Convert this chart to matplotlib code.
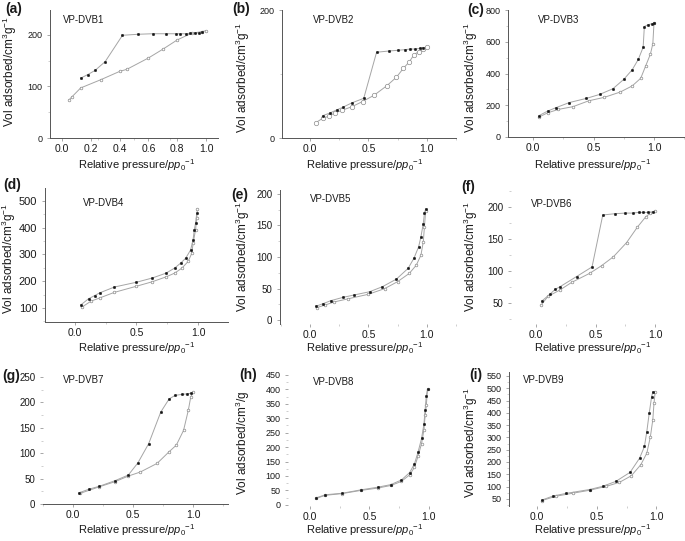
import matplotlib
matplotlib.use('Agg')
import matplotlib.pyplot as plt
from matplotlib.ticker import MultipleLocator

plt.rcParams['font.family'] = ['Liberation Sans', 'DejaVu Sans']
plt.rcParams['mathtext.fontset'] = 'custom'
plt.rcParams['mathtext.rm'] = 'Liberation Sans'
plt.rcParams['mathtext.it'] = 'Liberation Sans:italic'
plt.rcParams['text.color'] = '#1a1a1a'

# ---- data (relative pressure, volume adsorbed) ----
names = ['VP-DVB1', 'VP-DVB2', 'VP-DVB3', 'VP-DVB4', 'VP-DVB5',
         'VP-DVB6', 'VP-DVB7', 'VP-DVB8', 'VP-DVB9']
letters = ['(a)', '(b)', '(c)', '(d)', '(e)', '(f)', '(g)', '(h)', '(i)']

p_ads_a = [0.05, 0.07, 0.13, 0.27, 0.40, 0.45, 0.60, 0.70, 0.80, 0.90, 0.97, 1.00]
v_ads_a = [74, 80, 97, 113, 129, 133, 155, 172, 190, 203, 206, 208]
p_des_a = [0.13, 0.18, 0.23, 0.30, 0.42, 0.53, 0.63, 0.72, 0.79, 0.82, 0.86, 0.89, 0.92, 0.95, 0.97]
v_des_a = [116, 123, 131, 148, 199, 201, 202, 202, 202, 202, 202, 203, 203, 204, 206]

p_ads_b = [0.05, 0.11, 0.16, 0.21, 0.27, 0.36, 0.45, 0.55, 0.66, 0.74, 0.80, 0.85, 0.89, 0.93, 0.97, 1.00]
v_ads_b = [24, 31, 34, 39, 43, 49, 57, 67, 82, 95, 109, 119, 130, 135, 139, 142]
p_des_b = [0.11, 0.17, 0.23, 0.28, 0.36, 0.46, 0.57, 0.68, 0.75, 0.81, 0.86, 0.90, 0.94, 0.97]
v_des_b = [35, 39, 44, 48, 55, 62, 134, 136, 137, 138, 139, 139, 140, 141]

p_ads_c = [0.05, 0.12, 0.21, 0.33, 0.46, 0.59, 0.72, 0.82, 0.89, 0.93, 0.97, 0.99, 1.00]
v_ads_c = [126, 152, 174, 191, 228, 250, 283, 322, 370, 446, 522, 587, 720]
p_des_c = [0.05, 0.12, 0.19, 0.30, 0.44, 0.55, 0.66, 0.75, 0.82, 0.87, 0.91, 0.92, 0.95, 0.98, 1.00]
v_des_c = [135, 163, 185, 217, 243, 268, 304, 363, 424, 489, 565, 696, 707, 713, 717]

p_ads_d = [0.06, 0.13, 0.20, 0.32, 0.50, 0.63, 0.74, 0.81, 0.87, 0.92, 0.95, 0.96, 0.98, 0.99, 0.995]
v_ads_d = [104, 125, 137, 158, 181, 198, 216, 230, 249, 274, 305, 342, 392, 435, 472]
p_des_d = [0.05, 0.11, 0.16, 0.20, 0.32, 0.50, 0.63, 0.74, 0.81, 0.86, 0.90, 0.94, 0.96, 0.97, 0.98, 0.99]
v_des_d = [112, 134, 146, 156, 178, 196, 212, 230, 249, 268, 286, 317, 355, 392, 417, 454]

p_ads_e = [0.06, 0.13, 0.21, 0.33, 0.50, 0.64, 0.75, 0.85, 0.91, 0.95, 0.97, 0.98, 0.99]
v_ads_e = [20, 24, 29, 34, 41, 50, 61, 74, 87, 103, 124, 148, 172]
p_des_e = [0.05, 0.11, 0.18, 0.28, 0.38, 0.51, 0.62, 0.74, 0.84, 0.89, 0.93, 0.95, 0.97, 0.98, 0.99]
v_des_e = [22, 26, 31, 36, 40, 45, 53, 65, 82, 98, 116, 132, 153, 169, 176]

p_ads_f = [0.04, 0.10, 0.20, 0.30, 0.45, 0.55, 0.65, 0.76, 0.85, 0.92, 0.96, 1.00]
v_ads_f = [46, 60, 70, 82, 96, 108, 122, 144, 168, 184, 190, 194]
p_des_f = [0.05, 0.12, 0.16, 0.20, 0.34, 0.47, 0.56, 0.66, 0.75, 0.81, 0.86, 0.90, 0.94, 0.98]
v_des_f = [53, 64, 71, 75, 91, 106, 187, 189, 190, 190, 191, 191, 191, 192]

p_ads_g = [0.06, 0.22, 0.35, 0.46, 0.56, 0.70, 0.80, 0.86, 0.92, 0.96, 0.98, 1.00]
v_ads_g = [21, 34, 44, 55, 63, 80, 103, 116, 145, 185, 211, 220]
p_des_g = [0.05, 0.13, 0.22, 0.35, 0.46, 0.54, 0.63, 0.73, 0.80, 0.85, 0.91, 0.95, 0.98]
v_des_g = [22, 29, 35, 46, 57, 81, 119, 181, 207, 214, 216, 217, 218]

p_ads_h = [0.05, 0.13, 0.27, 0.43, 0.57, 0.68, 0.77, 0.84, 0.88, 0.91, 0.94, 0.96, 0.97, 0.98, 0.99]
v_ads_h = [22, 33, 39, 50, 58, 67, 81, 104, 130, 168, 212, 260, 310, 345, 400]
p_des_h = [0.99, 0.98, 0.97, 0.96, 0.94, 0.91, 0.88, 0.84, 0.77, 0.68, 0.57, 0.43, 0.27, 0.13, 0.05]
v_des_h = [400, 378, 330, 280, 230, 182, 142, 112, 86, 70, 61, 52, 40, 35, 24]

p_ads_i = [0.04, 0.16, 0.30, 0.44, 0.58, 0.69, 0.79, 0.87, 0.92, 0.95, 0.97, 0.98, 0.99]
v_ads_i = [43, 61, 73, 85, 101, 117, 144, 189, 236, 303, 371, 438, 485]
p_des_i = [0.04, 0.13, 0.24, 0.44, 0.55, 0.66, 0.78, 0.86, 0.90, 0.92, 0.94, 0.96, 0.97]
v_des_i = [45, 61, 72, 88, 101, 121, 158, 216, 263, 324, 398, 465, 485]

ads = [(p_ads_a, v_ads_a), (p_ads_b, v_ads_b), (p_ads_c, v_ads_c),
       (p_ads_d, v_ads_d), (p_ads_e, v_ads_e), (p_ads_f, v_ads_f),
       (p_ads_g, v_ads_g), (p_ads_h, v_ads_h), (p_ads_i, v_ads_i)]
des = [(p_des_a, v_des_a), (p_des_b, v_des_b), (p_des_c, v_des_c),
       (p_des_d, v_des_d), (p_des_e, v_des_e), (p_des_f, v_des_f),
       (p_des_g, v_des_g), (p_des_h, v_des_h), (p_des_i, v_des_i)]

yticks = [[0, 100, 200], [0, 200], [0, 200, 400, 600, 800],
          [100, 200, 300, 400, 500], [0, 50, 100, 150, 200], [50, 100, 150, 200],
          [0, 50, 100, 150, 200, 250], list(range(0, 451, 50)), list(range(50, 551, 50))]
yl_text = r'Vol adsorbed/cm$^3$g$^{-1}$'
ylabels = [yl_text, yl_text, yl_text, yl_text, yl_text, yl_text, None,
           r'Vol adsorbed/cm$^3$/g', yl_text]
xl_text = r'Relative pressure/$pp_0{}^{-1}$'

# ---- layout (pixels) ----
W, H = 685, 541
fig = plt.figure(figsize=(W / 100, H / 100), dpi=100)

# left, top, right, bottom
rects = [(50, 10, 218, 138), (282, 10, 456, 138), (508, 10, 685, 137),
         (45, 188, 228, 322), (280, 190, 456, 324), (511, 190, 685, 324),
         (43, 372, 228, 504), (288, 370, 456, 506), (509, 372, 685, 506)]
xlims = [(-0.083, 1.083), (-0.24, 1.25), (-0.207, 1.256),
         (-0.244, 1.244), (-0.256, 1.25), (-0.21, 1.25),
         (-0.25, 1.29), (-0.185, 1.23), (-0.235, 1.24)]
ylims = [(0, 248), (0, 200), (0, 800), (47, 549), (-6, 206), (17, 226),
         (0, 260), (-4, 467), (21, 566)]
spines = [('left', 'bottom'), ('left', 'bottom'), ('left', 'bottom'),
          ('left', 'bottom'), ('left',), (), ('bottom',), (), ('left',)]
ytick_size = [6.5, 6.5, 6.5, 8, 7, 7, 7, 6.5, 6.5]
letter_pos = [(14, 9), (241, 9), (476, 10), (12, 185), (240, 195), (468, 187),
              (11, 376), (248, 375), (476, 375)]
title_pos = [(63, 20), (313, 20), (538, 20), (83, 203), (310, 199), (531, 204),
             (63, 380), (313, 382), (523, 380)]
ylab_pos = [(10, 72), (243, 78), (471, 78), (9, 259), (243, 257), (471, 257),
            None, (243, 443), (471, 443)]
xlab_pos = [(137, 165), (365, 165), (593, 165), (137, 348), (365, 348), (593, 348),
            (137, 530), (365, 530), (593, 530)]

line_col = '#a5a5a5'
for k in range(9):
    l, t, r, b = rects[k]
    ax = fig.add_axes([l / W, 1 - b / H, (r - l) / W, (b - t) / H])
    ax.patch.set_alpha(0)
    ms_ads = 3.2 if k == 1 else 1.9
    ax.plot(ads[k][0], ads[k][1], '-', color=line_col, lw=0.7, marker='o',
            ms=ms_ads, mfc='white', mec='#8c8c8c', mew=0.5)
    ax.plot(des[k][0], des[k][1], '-', color=line_col, lw=0.7, marker='o',
            ms=1.8, mfc='#151515', mec='#151515', mew=0.3)
    ax.set_xlim(*xlims[k])
    ax.set_ylim(*ylims[k])
    if k == 0:
        ax.set_xticks([0, 0.2, 0.4, 0.6, 0.8, 1.0])
        ax.set_xticklabels(['0.0', '0.2', '0.4', '0.6', '0.8', '1.0'])
    else:
        ax.set_xticks([0, 0.5, 1.0])
        ax.set_xticklabels(['0.0', '0.5', '1.0'])
    ax.set_yticks(yticks[k])
    step = yticks[k][1] - yticks[k][0]
    ax.yaxis.set_minor_locator(MultipleLocator(step / 2))
    ax.xaxis.set_minor_locator(MultipleLocator(0.25))
    for s in ['top', 'right', 'left', 'bottom']:
        ax.spines[s].set_visible(s in spines[k])
        ax.spines[s].set_color('#555555')
        ax.spines[s].set_linewidth(0.7)
    ax.tick_params(which='major', length=2.5, width=0.6, color='#999999')
    ax.tick_params(which='minor', length=1.2, width=0.5, color='#bbbbbb')
    ax.tick_params(axis='x', labelsize=7.5, labelcolor='#1a1a1a', pad=1.5)
    ax.tick_params(axis='y', labelsize=ytick_size[k], labelcolor='#1a1a1a', pad=3)

    fig.text(letter_pos[k][0] / W, 1 - letter_pos[k][1] / H, letters[k],
             fontsize=10, fontweight='bold', ha='center', va='center')
    fig.text(title_pos[k][0] / W, 1 - title_pos[k][1] / H, names[k],
             fontsize=7, ha='left', va='center')
    fig.text(xlab_pos[k][0] / W, 1 - xlab_pos[k][1] / H, xl_text,
             fontsize=8, ha='center', va='center')
    if ylabels[k] is not None:
        fig.text(ylab_pos[k][0] / W, 1 - ylab_pos[k][1] / H, ylabels[k],
                 fontsize=8.5, rotation=90, ha='center', va='center')

fig.savefig('out.png', dpi=100)
